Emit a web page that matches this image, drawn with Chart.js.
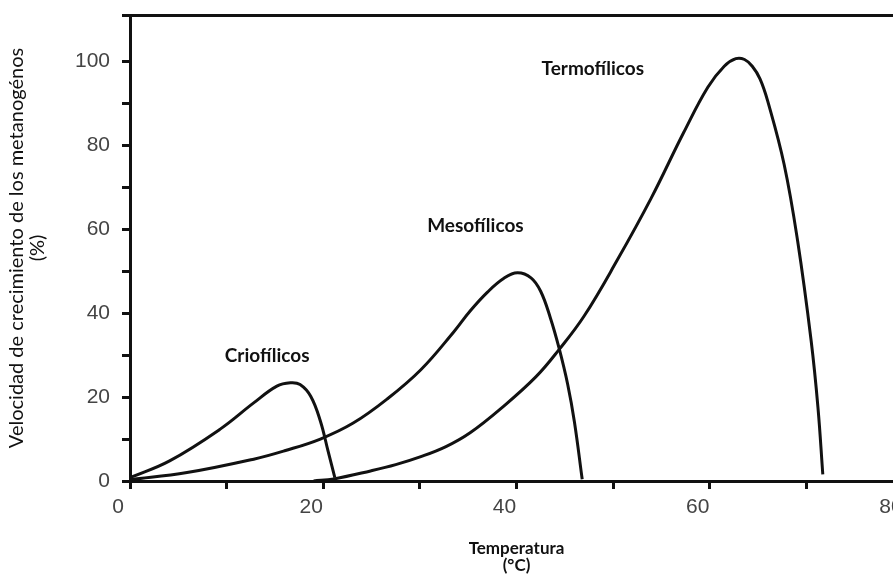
<!DOCTYPE html>
<html>
<head>
<meta charset="utf-8">
<script src="https://cdn.jsdelivr.net/npm/chart.js@4"></script>
<style>
  html, body { margin: 0; padding: 0; background: #fff; overflow: hidden; }
  #wrap { position: relative; width: 903px; height: 581px; }
</style>
</head>
<body>
<div id="wrap"><canvas id="myChart"></canvas></div>
<script>
// curves: temperature (°C) vs growth rate (%)
const crioX = [0, 4.1, 9.3, 12.8, 15.2, 16.6, 17.6, 18.7, 19.7, 20.5, 21.2];
const crioY = [0.8, 4.8, 12.3, 18.6, 22.6, 23.4, 23, 20.2, 14.3, 7.1, 0.8];

const mesoX = [0, 5.9, 12.8, 16, 19.7, 23.1, 26.6, 30.1, 33.5, 35.2, 37, 38.7, 40.1, 41.5, 42.5, 43.5, 44.4, 45.3, 46, 46.8];
const mesoY = [0.3, 2, 5.2, 7.2, 10, 13.8, 19.5, 26.5, 35.5, 40.5, 45, 48.3, 49.6, 48.4, 45.2, 38.9, 31.7, 23, 14, 0.4];

const termoX = [19, 21.1, 24.9, 27.5, 30.1, 32.7, 35.2, 38.5, 42, 44.4, 47, 50.4, 53.9, 57.3, 59.8, 61.5, 62.7, 63.6, 64.4, 65.2, 66, 67.7, 69.1, 70.5, 71.2, 71.7];
const termoY = [0, 0.5, 2.4, 3.9, 5.8, 8.2, 11.5, 17.5, 24.8, 31.3, 39.3, 52.5, 67.2, 83, 93.8, 98.8, 100.6, 100.4, 98.8, 95.8, 90.5, 75.4, 57.1, 33.3, 17.5, 1.6];

// text labels placed next to each curve
const curveNames = ['Criofílicos', 'Mesofílicos', 'Termofílicos'];
const labelX = [14.2, 35.75, 47.9];
const labelY = [29.7, 60.8, 98.1];

const xTitle = ['Temperatura', '(°C)'];
const yTitle = ['Velocidad de crecimiento de los metanogénos', '(%)'];

const toPoints = (xs, ys) => xs.map((v, i) => ({x: v, y: ys[i]}));

const curveLabels = {
  id: 'curveLabels',
  afterDatasetsDraw(chart) {
    const {ctx, scales: {x, y}} = chart;
    ctx.save();
    ctx.font = 'bold 19px Lato';
    ctx.fillStyle = '#111';
    ctx.textAlign = 'center';
    ctx.textBaseline = 'middle';
    curveNames.forEach((name, i) => {
      ctx.fillText(name, x.getPixelForValue(labelX[i]), y.getPixelForValue(labelY[i]));
    });
    ctx.restore();
  }
};

const lineStyle = {
  borderColor: '#111',
  borderWidth: 3,
  pointRadius: 0,
  fill: false,
  tension: 0.4
};

const ctx = document.getElementById('myChart').getContext('2d');
const chart = new Chart(ctx, {
  type: 'line',
  data: {
    datasets: [
      {label: curveNames[0], data: toPoints(crioX, crioY), ...lineStyle},
      {label: curveNames[1], data: toPoints(mesoX, mesoY), ...lineStyle},
      {label: curveNames[2], data: toPoints(termoX, termoY), ...lineStyle}
    ]
  },
  options: {
    responsive: true,
    maintainAspectRatio: false,
    animation: false,
    layout: {padding: 0},
    plugins: {legend: {display: false}, tooltip: {enabled: false}},
    scales: {
      x: {
        type: 'linear',
        min: 0,
        max: 80,
        afterFit: s => { s.height = 100; s.paddingLeft = 0; s.paddingRight = 0; },
        border: {display: true, color: '#111', width: 3},
        grid: {drawOnChartArea: false, drawTicks: true, tickLength: 8, tickWidth: 3, tickColor: '#111'},
        ticks: {
          stepSize: 10,
          autoSkip: false,
          maxRotation: 0,
          padding: 6,
          labelOffset: -12,
          color: '#444',
          font: {family: 'Liberation Sans', size: 21},
          callback: v => (v % 20 === 0 ? v : '')
        },
        title: {
          display: true,
          text: xTitle,
          color: '#111',
          font: {family: 'Lato', size: 17, weight: 'bold', lineHeight: 1.0},
          padding: {top: 0, bottom: 7}
        }
      },
      x2: {
        type: 'linear',
        position: 'top',
        min: 0,
        max: 80,
        afterFit: s => { s.height = 15; s.paddingLeft = 0; s.paddingRight = 0; },
        border: {display: true, color: '#111', width: 3},
        grid: {display: false},
        ticks: {display: false}
      },
      y: {
        type: 'linear',
        min: 0,
        max: 111,
        afterFit: s => { s.width = 130; s.paddingTop = 0; s.paddingBottom = 0; },
        border: {display: true, color: '#111', width: 3},
        grid: {drawOnChartArea: false, drawTicks: true, tickLength: 8, tickWidth: 3, tickColor: '#111'},
        ticks: {
          stepSize: 10,
          autoSkip: false,
          padding: 12,
          color: '#444',
          font: {family: 'Liberation Sans', size: 21},
          callback: v => (v % 20 === 0 ? v : '')
        },
        title: {
          display: true,
          text: yTitle,
          color: '#111',
          font: {family: 'Lato', size: 20, lineHeight: 1.05},
          padding: {top: 6, bottom: 0}
        }
      }
    }
  },
  plugins: [curveLabels]
});
</script>
</body>
</html>
